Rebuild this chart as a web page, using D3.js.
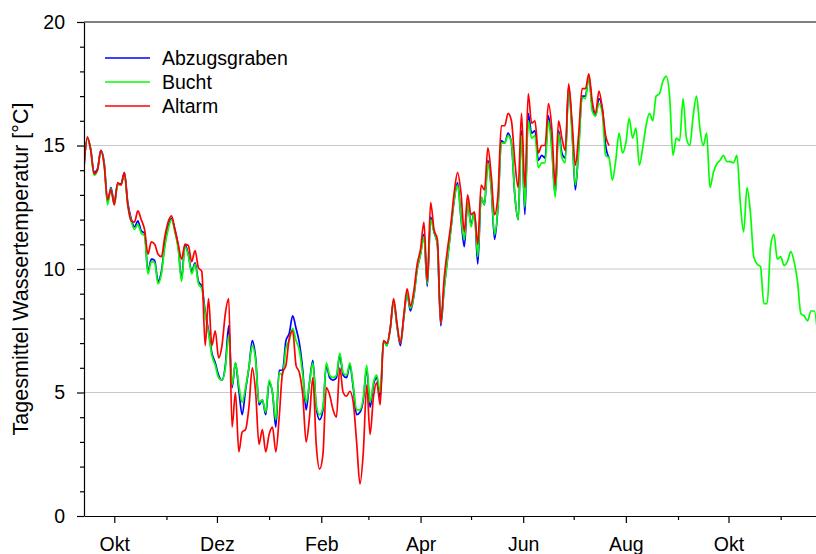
<!DOCTYPE html>
<html lang="de">
<head>
  <meta charset="UTF-8">
  <title>Tagesmittel Wassertemperatur</title>
  <script src="https://d3js.org/d3.v7.min.js"></script>
  <style>
    body { margin: 0; background: #fff; }
    text { font-family: "Liberation Sans", Arial, sans-serif; }
  </style>
</head>
<body>
  <script>
    // Messreihe: ein Wert alle 2 Tage ab 13.09.2006
    var startDate = new Date(2006, 8, 13);
    var endDate = new Date(2007, 10, 22);
    var stepDays = 2;

    var seriesNames = ["Abzugsgraben", "Bucht", "Altarm"];
    var seriesColors = ["#0000ff", "#00ff00", "#ff0000"];

    var abzugsgraben = [
      14.2, 15.3, 14.85, 13.9, 14.05, 14.8, 14.3, 12.7, 13.3, 12.7,
      13.45, 13.45, 13.9, 12.7, 12.05, 11.7, 11.95, 11.55, 11.45, 9.9,
      10.4, 10.35, 9.5, 9.9, 11.0, 11.7, 12.05, 11.6, 10.9, 9.6,
      11.0, 10.6, 9.9, 10.25, 9.5, 9.3, 8.3, 7.5, 6.6, 6.2,
      5.7, 5.5, 6.1, 7.7, 5.2, 6.2, 5.1, 4.1, 5.1, 6.0,
      7.1, 6.4, 4.5, 4.7, 4.1, 5.4, 5.0, 3.6, 5.9, 5.9,
      7.1, 7.4, 8.1, 7.6, 7.0, 5.9, 4.3, 5.4, 6.3, 4.4,
      3.9, 4.3, 6.1, 5.6, 5.5, 5.6, 6.5, 5.7, 5.6, 6.1,
      5.2, 4.1, 4.2, 4.7, 6.0, 4.4, 5.3, 5.6, 4.8, 7.1,
      6.9, 7.6, 8.7, 7.7, 6.9, 8.0, 9.0, 8.3, 8.9, 10.0,
      10.6, 11.4, 9.3, 12.1, 11.5, 11.0, 7.7, 9.2, 10.4, 11.6,
      12.8, 13.5, 12.1, 10.9, 12.7, 11.8, 12.3, 10.2, 12.9, 12.6,
      14.4, 13.3, 11.2, 12.5, 15.2, 15.1, 15.5, 15.1, 13.0, 12.0,
      15.6, 12.2, 16.3, 15.5, 15.6, 14.4, 14.6, 14.5, 16.2, 15.0,
      13.0, 15.6, 14.7, 14.5, 17.4, 15.7, 13.2, 15.0, 17.0, 17.0,
      17.8, 16.6, 16.2, 16.9, 16.5, 15.0, 14.5
    ];

    var bucht = [
      14.2, 15.3, 14.8, 13.8, 14.0, 14.75, 14.25, 12.6, 13.25, 12.6,
      13.4, 13.4, 13.85, 12.6, 11.95, 11.6, 11.8, 11.45, 11.35, 9.8,
      10.3, 10.25, 9.4, 9.8, 10.9, 11.6, 12.0, 11.5, 10.8, 9.5,
      10.9, 10.55, 9.8, 10.2, 9.4, 9.2, 8.2, 7.4, 6.5, 6.1,
      5.6, 5.5, 6.0, 7.3, 5.3, 6.2, 5.3, 4.6, 5.2, 6.0,
      6.9, 6.3, 4.6, 4.7, 4.2, 5.5, 5.0, 3.9, 5.8, 5.7,
      6.8, 7.1, 7.6, 7.1, 6.7, 5.7, 4.6, 5.4, 6.2, 4.5,
      4.1, 4.4, 6.2, 5.7, 5.6, 5.7, 6.6, 5.8, 5.7, 6.2,
      5.3, 4.3, 4.3, 4.8, 6.1, 4.6, 5.4, 5.7, 5.0, 7.1,
      6.9, 7.6, 8.7, 7.7, 7.0, 8.0, 9.0, 8.4, 8.9, 10.0,
      10.6, 11.3, 9.4, 12.0, 11.5, 11.0, 7.8, 9.2, 10.4, 11.6,
      12.8, 13.4, 12.1, 11.2, 12.7, 11.7, 12.3, 10.5, 12.9, 12.6,
      14.3, 13.3, 11.4, 12.5, 15.1, 15.1, 15.4, 15.1, 13.0, 12.0,
      15.4, 12.5, 16.0, 15.3, 15.4, 14.1, 14.3, 14.3, 16.0, 14.8,
      12.9, 15.5, 14.5, 14.3, 17.3, 15.5, 13.4, 14.8, 16.95, 16.9,
      17.8, 16.4, 16.2, 16.7, 16.3, 14.6, 14.5, 13.6, 14.4, 15.5,
      14.7, 15.1, 16.1, 15.3, 15.7, 14.2, 14.9, 15.8, 16.3, 16.0,
      17.0, 17.1, 17.6, 17.8, 17.0, 14.6, 15.3, 15.2, 16.9, 15.3,
      15.0, 16.2, 17.0, 15.7, 15.0, 15.5, 13.3, 13.9, 14.25, 14.4,
      14.6, 14.35, 14.35, 14.3, 14.6, 12.7, 11.5, 13.3, 12.3, 10.5,
      10.2, 10.1, 8.6, 8.6, 10.9, 11.4, 10.4, 10.5, 10.15, 10.3,
      10.7, 10.3, 9.5, 8.2, 8.1, 7.9, 8.3, 8.3, 7.3
    ];

    var altarm = [
      14.1, 15.35, 14.8, 13.85, 14.0, 14.8, 14.2, 12.8, 13.2, 12.6,
      13.5, 13.4, 13.9, 12.6, 11.95, 11.9, 12.35, 12.0, 11.6, 10.6,
      11.1, 11.0, 10.6, 10.5, 11.3, 11.9, 12.15, 11.6, 11.0, 10.4,
      11.0, 10.95, 10.3, 10.75, 10.05, 9.9, 6.9, 8.8, 6.9, 7.5,
      6.4, 6.9, 8.2, 8.8, 3.6, 5.0, 2.6, 3.4, 3.5, 4.4,
      6.0, 5.0, 2.9, 3.5, 2.6, 3.3, 3.6, 2.6, 4.0, 5.8,
      6.1, 7.2, 7.5, 6.1, 5.8, 4.9, 3.0, 4.0, 5.6, 2.9,
      1.9, 2.5, 5.2, 4.9, 4.3, 4.0, 6.0, 5.0, 4.85, 5.05,
      4.6, 3.0, 1.3, 2.6, 5.3, 3.3, 4.8, 5.4, 4.5, 7.1,
      7.0, 7.6, 8.8, 7.8, 7.0, 8.1, 9.2, 8.5, 9.1, 10.2,
      10.8, 11.9, 9.5, 12.7, 11.6, 11.2, 7.8, 9.6, 10.8, 11.8,
      13.1, 13.9, 13.1, 11.5, 13.0, 12.2, 12.3, 11.0, 13.4, 13.2,
      14.9, 13.8, 12.2, 13.0, 15.8, 15.8, 16.3, 16.0, 14.4, 13.3,
      16.3, 13.3, 17.1, 15.9, 16.0, 14.7, 15.0, 15.0, 16.7, 15.7,
      13.4, 16.0, 15.3, 14.8, 17.5, 16.0, 14.2, 15.5, 17.3, 17.3,
      17.9, 16.8, 16.3, 17.2, 16.5, 15.4, 15.0
    ];

    var yMajorTicks = [0, 5, 10, 15, 20];
    var yGridTicks = [5, 10, 15];
    var monthNames = ["Jan", "Feb", "Mrz", "Apr", "Mai", "Jun", "Jul", "Aug", "Sep", "Okt", "Nov", "Dez"];

    var svgWidth = 816;
    var svgHeight = 554;
    var plotLeft = 84;
    var plotRight = 816;
    var plotTop = 22;
    var plotBottom = 516;

    var svg = d3.select("body")
                .append("svg")
                .attr("width", svgWidth)
                .attr("height", svgHeight);

    var x = d3.scaleTime()
              .domain([startDate, endDate])
              .range([plotLeft, plotRight]);

    var y = d3.scaleLinear()
              .domain([0, 20])
              .range([plotBottom, plotTop]);

    // Gitterlinien
    svg.append("g")
       .selectAll("line")
       .data(yGridTicks)
       .enter()
       .append("line")
       .attr("x1", plotLeft)
       .attr("x2", plotRight)
       .attr("y1", d => y(d))
       .attr("y2", d => y(d))
       .style("stroke", "#c8c8c8")
       .style("stroke-width", 1);

    svg.append("line")
       .attr("x1", plotLeft)
       .attr("x2", plotRight)
       .attr("y1", y(20))
       .attr("y2", y(20))
       .style("stroke", "black")
       .style("stroke-width", 1.2);

    // Datenlinien
    svg.append("clipPath")
       .attr("id", "plotclip")
       .append("rect")
       .attr("x", plotLeft)
       .attr("y", plotTop)
       .attr("width", plotRight - plotLeft)
       .attr("height", plotBottom - plotTop);

    var seriesValues = [abzugsgraben, bucht, altarm];

    var line = d3.line()
                 .defined(d => d.value != null)
                 .curve(d3.curveMonotoneX)
                 .x(d => x(d.date))
                 .y(d => y(d.value));

    seriesValues.forEach(function(values, i) {
      var points = values.map(function(v, k) {
        return { date: d3.timeDay.offset(startDate, k * stepDays), value: v };
      });
      svg.append("path")
         .datum(points)
         .attr("clip-path", "url(#plotclip)")
         .attr("d", line)
         .style("fill", "none")
         .style("stroke", seriesColors[i])
         .style("stroke-width", 1.7)
         .style("stroke-linejoin", "round");
    });

    // Achsen
    var months = d3.timeMonth.range(new Date(2006, 9, 1), endDate);
    var majorMonths = months.filter(d => d.getMonth() % 2 === 1);
    var minorMonths = months.filter(d => d.getMonth() % 2 === 0);

    var xAxisMinor = svg.append("g")
       .attr("transform", "translate(0," + plotBottom + ")")
       .call(d3.axisBottom(x)
               .tickValues(minorMonths)
               .tickSize(4)
               .tickSizeOuter(0)
               .tickFormat(""));
    xAxisMinor.select(".domain").remove();

    var xAxis = svg.append("g")
       .attr("transform", "translate(0," + plotBottom + ")")
       .call(d3.axisBottom(x)
               .tickValues(majorMonths)
               .tickSize(7)
               .tickSizeOuter(0)
               .tickPadding(14)
               .tickFormat(d => monthNames[d.getMonth()]));

    var yMinor = d3.range(1, 20).filter(d => d % 5 !== 0);
    var yAxisMinor = svg.append("g")
       .attr("transform", "translate(" + plotLeft + ",0)")
       .call(d3.axisLeft(y)
               .tickValues(yMinor)
               .tickSize(4)
               .tickSizeOuter(0)
               .tickFormat(""));
    yAxisMinor.select(".domain").remove();

    var yAxis = svg.append("g")
       .attr("transform", "translate(" + plotLeft + ",0)")
       .call(d3.axisLeft(y)
               .tickValues(yMajorTicks)
               .tickSize(7)
               .tickSizeOuter(0)
               .tickPadding(12)
               .tickFormat(d3.format("d")));

    svg.selectAll(".tick text")
       .style("font-size", "19.5px")
       .style("font-family", "'Liberation Sans', Arial, sans-serif")
       .style("fill", "black");

    svg.selectAll(".domain, .tick line")
       .style("stroke", "black")
       .style("stroke-width", 1.2);

    svg.append("text")
       .attr("transform", "translate(28," + ((plotTop + plotBottom) / 2) + ") rotate(-90)")
       .attr("text-anchor", "middle")
       .style("font-size", "21.5px")
       .text("Tagesmittel Wassertemperatur [°C]");

    // Legende
    var legend = svg.selectAll(".legend")
                    .data(seriesNames)
                    .enter()
                    .append("g")
                    .attr("class", "legend")
                    .attr("transform", (d, i) => "translate(105," + (58 + i * 24) + ")");

    legend.append("line")
          .attr("x1", 0)
          .attr("x2", 45)
          .style("stroke", (d, i) => seriesColors[i])
          .style("stroke-width", 1.7);

    legend.append("text")
          .attr("x", 57)
          .attr("dy", "0.35em")
          .style("font-size", "19.5px")
          .text(d => d);
  </script>
</body>
</html>
